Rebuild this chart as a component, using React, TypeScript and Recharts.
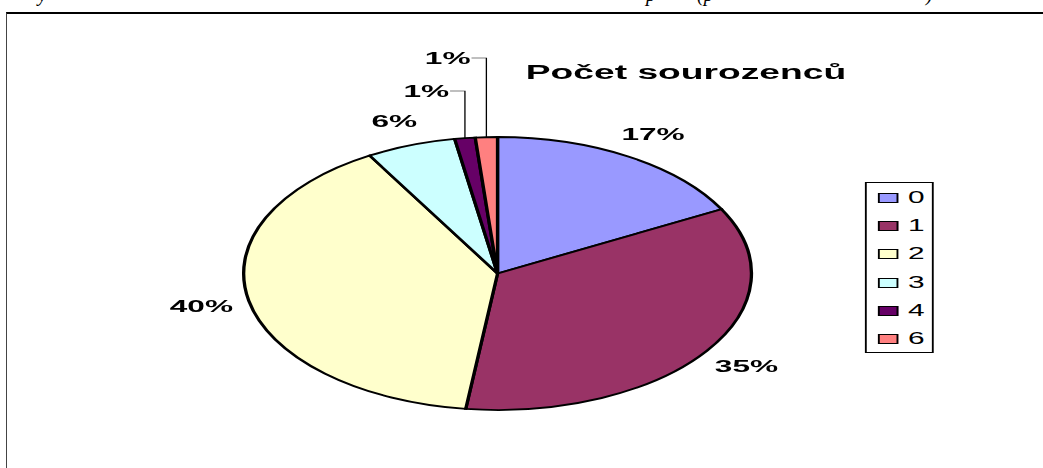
import { PieChart, Pie, Cell, Legend } from "recharts";

const categories = ["0", "1", "2", "3", "4", "6"];
const shares = [17.2, 34.8, 39.6, 5.7, 1.3, 1.4];
const colors = ["#9999FF", "#993366", "#FFFFCC", "#CCFFFF", "#660066", "#FF8080"];
const title = "Počet sourozenců";
// fragments of the caption line above the chart (only descenders are visible)
const captionBits = [
  { text: "y", x: 38 },
  { text: "p", x: 646 },
  { text: "(p", x: 697 },
  { text: ")", x: 926 },
];

const STRETCH = 1.86;
const W = 1043;
const H = 468;
const RAD = Math.PI / 180;

const data = categories.map((name, i) => ({ name, value: shares[i] }));
const total = shares.reduce((a, b) => a + b, 0);
const smallIdx = shares
  .map((v, i) => (v / total < 0.02 ? i : -1))
  .filter((i) => i >= 0);

const labelFont = {
  fontFamily: "'Liberation Sans', Arial, sans-serif",
  fontWeight: 700,
  fontSize: 17,
};

function renderLabel(props: any) {
  const { cx, cy, midAngle, outerRadius, percent, index } = props;
  const txt = `${Math.round(percent * 100)}%`;
  const k = smallIdx.indexOf(index);
  if (k < 0) {
    const r = outerRadius + 26;
    const x = cx + r * Math.cos(-midAngle * RAD);
    const y = cy + r * Math.sin(-midAngle * RAD);
    return (
      <text key={`l${index}`} x={x} y={y} textAnchor="middle" dominantBaseline="central" fill="#000" {...labelFont}>
        {txt}
      </text>
    );
  }
  const x0 = cx + outerRadius * Math.cos(-midAngle * RAD);
  const y0 = cy + outerRadius * Math.sin(-midAngle * RAD);
  const yl = cy - outerRadius - 46 - 33 * k;
  const xl = x0 - 8;
  return (
    <g key={`l${index}`}>
      <polyline points={`${x0},${y0} ${x0},${yl} ${xl},${yl}`} fill="none" stroke="#000" strokeWidth={0.7} />
      <text x={xl - 0.5} y={yl} textAnchor="end" dominantBaseline="central" fill="#000" {...labelFont}>
        {txt}
      </text>
    </g>
  );
}

function LegendBox(props: any) {
  const payload = props.payload || [];
  return (
    <div
      style={{
        width: 37.6,
        height: 171,
        border: "1px solid #000",
        boxSizing: "border-box",
        background: "#fff",
        paddingTop: 0.5,
      }}
    >
      {payload.map((p: any, i: number) => (
        <div key={i} style={{ display: "flex", alignItems: "center", height: 28.3 }}>
          <div
            style={{
              marginLeft: 6,
              width: 11.3,
              height: 10,
              boxSizing: "border-box",
              border: "1.5px solid #000",
              background: p.payload?.fill ?? p.color ?? colors[i],
            }}
          />
          <span
            style={{
              marginLeft: 5.4,
              fontFamily: "'Liberation Sans', Arial, sans-serif",
              fontSize: 16,
              lineHeight: 1,
              color: "#000",
            }}
          >
            {p.value}
          </span>
        </div>
      ))}
    </div>
  );
}

export default function App() {
  return (
    <div
      style={{
        position: "absolute",
        left: 0,
        top: 0,
        width: W,
        height: H,
        overflow: "hidden",
        background: "#fff",
      }}
    >
      <svg style={{ position: "absolute", left: 0, top: 0 }} width={W} height={12}>
        {captionBits.map((c) => (
          <text
            key={c.x}
            x={c.x}
            y={0.5}
            fontFamily="'Liberation Serif', 'Times New Roman', serif"
            fontStyle="italic"
            fontSize={20}
            fill="#000"
          >
            {c.text}
          </text>
        ))}
      </svg>
      <div
        style={{
          position: "absolute",
          left: 5.5,
          top: 12,
          width: 1100,
          height: 500,
          borderTop: "2px solid #000",
          borderLeft: "1px solid #444",
        }}
      />
      <div
        style={{
          position: "absolute",
          left: 0,
          top: 0,
          transform: `scaleX(${STRETCH})`,
          transformOrigin: "0 0",
        }}
      >
        <PieChart width={W / STRETCH} height={H} margin={{ top: 0, right: 0, bottom: 0, left: 0 }}>
          <text x={368.8} y={79.3} textAnchor="middle" fill="#000" {...labelFont} fontSize={20}>
            {title}
          </text>
          <Pie
            data={data}
            dataKey="value"
            nameKey="name"
            cx={267.5}
            cy={273.5}
            outerRadius={136.5}
            startAngle={90}
            endAngle={-270}
            stroke="#000"
            strokeWidth={1.8}
            label={renderLabel}
            labelLine={false}
            isAnimationActive={false}
          >
            {data.map((d, i) => (
              <Cell key={d.name} fill={colors[i]} />
            ))}
          </Pie>
          <Legend
            layout="vertical"
            align="right"
            verticalAlign="top"
            wrapperStyle={{ left: 464.5, top: 182, width: "auto" }}
            content={(p: any) => <LegendBox payload={p.payload} />}
          />
        </PieChart>
      </div>
    </div>
  );
}
